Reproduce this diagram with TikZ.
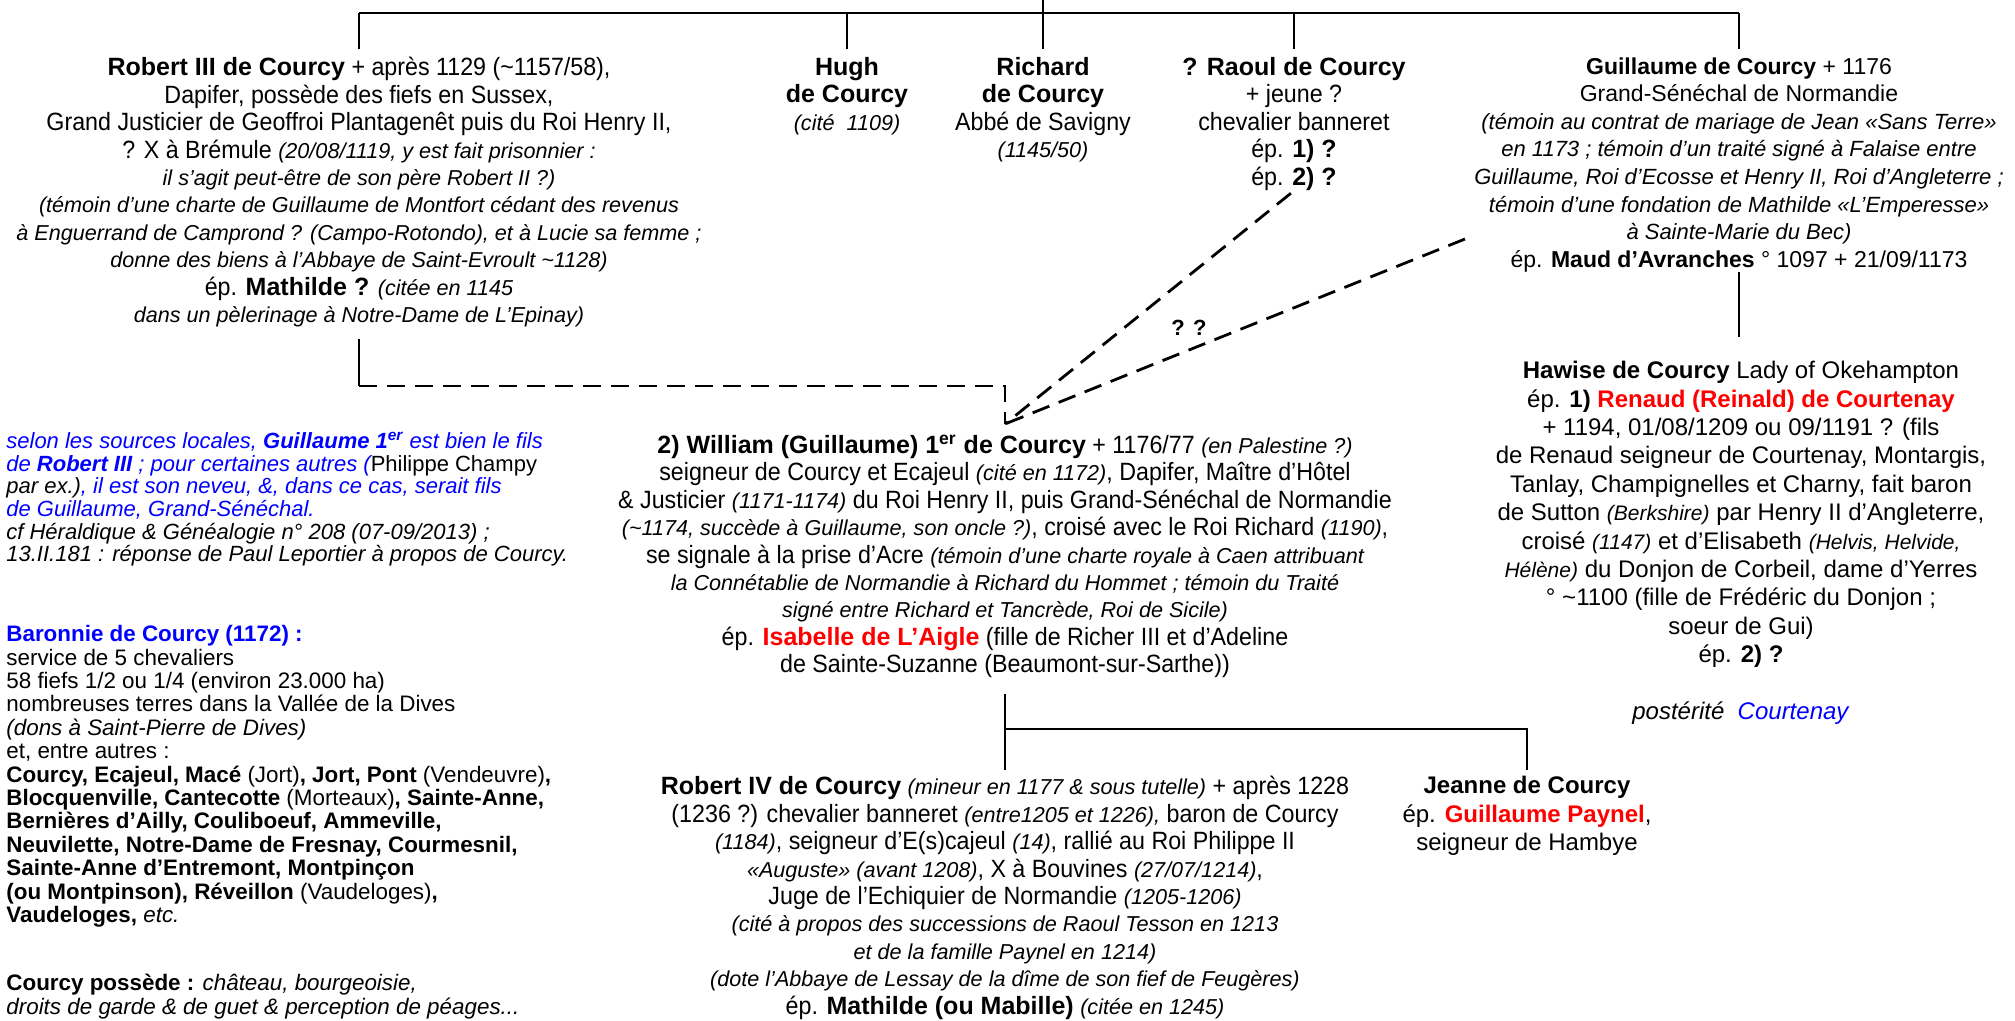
\documentclass[tikz,border=0pt]{standalone}
\usepackage{fontspec}
\setmainfont{Liberation Sans}
\newfontfamily\narrowfont{Liberation Sans}[FakeStretch=0.93]
\usetikzlibrary{positioning}
\definecolor{noteblue}{HTML}{0000FF}
\definecolor{spousered}{HTML}{FF0000}
\newcommand\narrowmain{\narrowfont\fontsize{12.5}{13.7}\selectfont}
\newcommand\widemain{\fontsize{11.5}{13.8}\selectfont}
\newcommand\nb[1]{{\rmfamily\bfseries #1}}
\newcommand\cmt[1]{{\rmfamily\itshape\fontsize{10.8}{13.7}\selectfont #1}}
\newcommand\gcmt[1]{{\itshape\fontsize{11}{13.8}\selectfont #1}}
\newcommand\hcmt[1]{{\itshape\fontsize{10.5}{14.2}\selectfont #1}}
\newcommand\spouse[1]{\textcolor{spousered}{\nb{#1}}}
\newcommand\blue[1]{\textcolor{noteblue}{\itshape #1}}

\begin{document}
\begin{tikzpicture}[
        x=0.5pt, y=-0.5pt,
        kin/.style={line width=1.4pt},
        doubt/.style={line width=1.4pt, dash pattern=on 9pt off 5pt},
        narrowbox/.style={anchor=north, inner sep=0pt, align=center, font=\narrowmain},
        widebox/.style={anchor=north, inner sep=0pt, align=center, font=\widemain},
        notebox/.style={anchor=north west, inner sep=0pt, align=left}
    ]
        \useasboundingbox (0,0) rectangle (2015,1021);

        % first generation
        \node[narrowbox] (robert3) at (359,57) {%
            \nb{Robert III de Courcy} + après 1129 (\textasciitilde1157/58),\\
            Dapifer, possède des fiefs en Sussex,\\
            Grand Justicier de Geoffroi Plantagenêt puis du Roi Henry II,\\
            ? X à Brémule \cmt{(20/08/1119, y est fait prisonnier :}\\
            \cmt{il s’agit peut-être de son père Robert II ?)}\\
            \cmt{(témoin d’une charte de Guillaume de Montfort cédant des revenus}\\
            \cmt{à Enguerrand de Camprond ? (Campo-Rotondo), et à Lucie sa femme ;}\\
            \cmt{donne des biens à l’Abbaye de Saint-Evroult \textasciitilde1128)}\\
            ép. \nb{Mathilde ?} \cmt{(citée en 1145}\\
            \cmt{dans un pèlerinage à Notre-Dame de L’Epinay)}};
        \node[narrowbox] (hugh) at (847,57) {%
            \nb{Hugh}\\ \nb{de Courcy}\\ \cmt{(cité\ \ 1109)}};
        \node[narrowbox] (richard) at (1043,57) {%
            \nb{Richard}\\ \nb{de Courcy}\\ Abbé de Savigny\\ \cmt{(1145/50)}};
        \node[narrowbox] (raoul) at (1294,57) {%
            \nb{? Raoul de Courcy}\\ + jeune ?\\ chevalier banneret\\
            ép. \nb{1) ?}\\ ép. \nb{2) ?}};
        \node[widebox] (guillaume) at (1739,57) {%
            \textbf{Guillaume de Courcy} + 1176\\
            Grand-Sénéchal de Normandie\\
            \gcmt{(témoin au contrat de mariage de Jean «Sans Terre»}\\
            \gcmt{en 1173 ; témoin d’un traité signé à Falaise entre}\\
            \gcmt{Guillaume, Roi d’Ecosse et Henry II, Roi d’Angleterre ;}\\
            \gcmt{témoin d’une fondation de Mathilde «L’Emperesse»}\\
            \gcmt{à Sainte-Marie du Bec)}\\
            ép. \textbf{Maud d’Avranches} ° 1097 + 21/09/1173};

        % second generation
        \node[narrowbox] (william) at (1005,435) {%
            \nb{2) William (Guillaume) 1\textsuperscript{er} de Courcy} + 1176/77 \cmt{(en Palestine ?)}\\
            seigneur de Courcy et Ecajeul \cmt{(cité en 1172)}, Dapifer, Maître d’Hôtel\\
            \& Justicier \cmt{(1171-1174)} du Roi Henry II, puis Grand-Sénéchal de Normandie\\
            \cmt{(\textasciitilde1174, succède à Guillaume, son oncle ?)}, croisé avec le Roi Richard \cmt{(1190)},\\
            se signale à la prise d’Acre \cmt{(témoin d’une charte royale à Caen attribuant}\\
            \cmt{la Connétablie de Normandie à Richard du Hommet ; témoin du Traité}\\
            \cmt{signé entre Richard et Tancrède, Roi de Sicile)}\\
            ép. \spouse{Isabelle de L’Aigle} (fille de Richer III et d’Adeline\\
            de Sainte-Suzanne (Beaumont-sur-Sarthe))};
        \node[anchor=north, inner sep=0pt, align=center,
              font=\fontsize{12}{14.2}\selectfont] (hawise) at (1741,361) {%
            \textbf{Hawise de Courcy} Lady of Okehampton\\
            ép. \textbf{1)} \spouse{Renaud (Reinald) de Courtenay}\\
            + 1194, 01/08/1209 ou 09/1191 ? (fils\\
            de Renaud seigneur de Courtenay, Montargis,\\
            Tanlay, Champignelles et Charny, fait baron\\
            de Sutton \hcmt{(Berkshire)} par Henry II d’Angleterre,\\
            croisé \hcmt{(1147)} et d’Elisabeth \hcmt{(Helvis, Helvide,}\\
            \hcmt{Hélène)} du Donjon de Corbeil, dame d’Yerres\\
            ° \textasciitilde1100 (fille de Frédéric du Donjon ;\\
            soeur de Gui)\\
            ép. \textbf{2) ?}\\[14.2pt]
            \textit{postérité}\ \ \textcolor{noteblue}{\textit{Courtenay}}};

        % third generation
        \node[narrowbox] (robert4) at (1005,776) {%
            \nb{Robert IV de Courcy} \cmt{(mineur en 1177 \& sous tutelle)} + après 1228\\
            (1236 ?) chevalier banneret \cmt{(entre1205 et 1226),} baron de Courcy\\
            \cmt{(1184)}, seigneur d’E(s)cajeul \cmt{(14)}, rallié au Roi Philippe II\\
            \cmt{«Auguste» (avant 1208)}, X à Bouvines \cmt{(27/07/1214)},\\
            Juge de l’Echiquier de Normandie \cmt{(1205-1206)}\\
            \cmt{(cité à propos des successions de Raoul Tesson en 1213}\\
            \cmt{et de la famille Paynel en 1214)}\\
            \cmt{(dote l’Abbaye de Lessay de la dîme de son fief de Feugères)}\\
            ép. \nb{Mathilde (ou Mabille)} \cmt{(citée en 1245)}};
        \node[anchor=north, inner sep=0pt, align=center,
              font=\fontsize{12}{14.2}\selectfont] (jeanne) at (1527,776) {%
            \textbf{Jeanne de Courcy}\\
            ép. \spouse{Guillaume Paynel},\\
            seigneur de Hambye};

        % notes
        \node[notebox, font=\fontsize{11}{11.3}\selectfont] (sources) at (6,432) {%
            \blue{selon les sources locales, \textbf{Guillaume 1\textsuperscript{er}} est bien le fils}\\
            \blue{de \textbf{Robert III} ; pour certaines autres (}Philippe Champy\\
            \textit{par ex.)}\blue{, il est son neveu, \&, dans ce cas, serait fils}\\
            \blue{de Guillaume, Grand-Sénéchal.}\\
            \textit{cf Héraldique \& Généalogie n° 208 (07-09/2013) ;}\\
            \textit{13.II.181 : réponse de Paul Leportier à propos de Courcy.}};
        \node[notebox, font=\fontsize{11.2}{11.7}\selectfont] (baronnie) at (6,625) {%
            \textcolor{noteblue}{\textbf{Baronnie de Courcy (1172) :}}\\
            service de 5 chevaliers\\
            58 fiefs 1/2 ou 1/4 (environ 23.000 ha)\\
            nombreuses terres dans la Vallée de la Dives\\
            \textit{(dons à Saint-Pierre de Dives)}\\
            et, entre autres :\\
            \textbf{Courcy, Ecajeul, Macé} (Jort)\textbf{, Jort, Pont} (Vendeuvre)\textbf{,}\\
            \textbf{Blocquenville, Cantecotte} (Morteaux)\textbf{, Sainte-Anne,}\\
            \textbf{Bernières d’Ailly, Couliboeuf, Ammeville,}\\
            \textbf{Neuvilette, Notre-Dame de Fresnay, Courmesnil,}\\
            \textbf{Sainte-Anne d’Entremont, Montpinçon}\\
            \textbf{(ou Montpinson), Réveillon} (Vaudeloges)\textbf{,}\\
            \textbf{Vaudeloges,} \textit{etc.}\\[22.5pt]
            \textbf{Courcy possède :} \textit{château, bourgeoisie,}\\
            \textit{droits de garde \& de guet \& perception de péages...}};

        % lines of descent
        \coordinate (root) at (1043,0);
        \coordinate (bar) at (1043,13);
        \coordinate (rbend) at (359,386);
        \coordinate (meet) at (1005,424);
        \coordinate (gfoot) at (1465,239);
        \coordinate (fam) at (1005,729);

        \draw[kin] (root) -- (bar);
        \draw[kin] (robert3.north |- bar) -- (guillaume.north |- bar);
        \foreach \child in {robert3, hugh, richard, raoul, guillaume}
            \draw[kin, shorten >=4pt] (\child.north |- bar) -- (\child.north);

        \draw[kin, shorten <=6pt] (robert3.south) -- (rbend);
        \draw[doubt] (rbend) -- (rbend -| meet) -- (meet);
        \draw[doubt, shorten <=2pt] (raoul.south) -- (meet);
        \draw[doubt] (gfoot) -- node[pos=0.6, above=3pt, font=\bfseries\fontsize{11}{13}\selectfont] {? ?} (meet);

        \draw[kin, shorten >=12pt] (guillaume.south) -- (guillaume.south |- hawise.north);

        \draw[kin, shorten <=8pt, shorten >=3pt] (william.south) -- (robert4.north);
        \draw[kin, shorten >=3pt] (fam) -| (jeanne.north);
    \end{tikzpicture}
\end{document}
